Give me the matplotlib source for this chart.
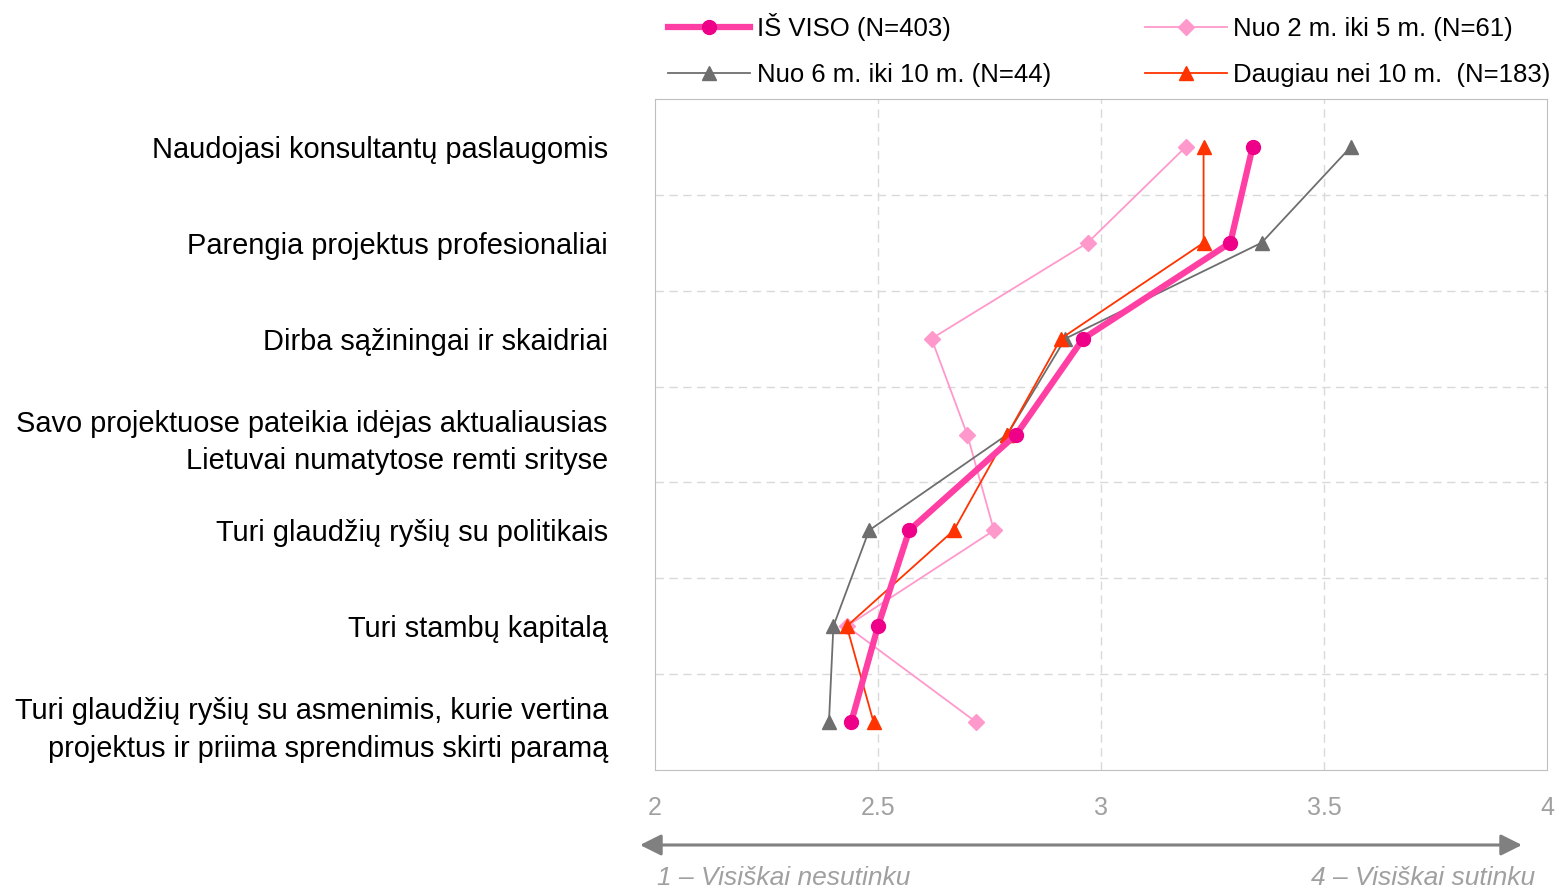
import numpy as np
import matplotlib.pyplot as plt

plt.rcParams['font.family'] = ['Liberation Sans', 'DejaVu Sans']

categories = [
    'Naudojasi konsultantų paslaugomis',
    'Parengia projektus profesionaliai',
    'Dirba sąžiningai ir skaidriai',
    'Savo projektuose pateikia idėjas aktualiausias\nLietuvai numatytose remti srityse',
    'Turi glaudžių ryšių su politikais',
    'Turi stambų kapitalą',
    'Turi glaudžių ryšių su asmenimis, kurie vertina\nprojektus ir priima sprendimus skirti paramą',
]

is_viso = [3.34, 3.29, 2.96, 2.81, 2.57, 2.50, 2.44]
nuo_2_5 = [3.19, 2.97, 2.62, 2.70, 2.76, 2.43, 2.72]
nuo_6_10 = [3.56, 3.36, 2.92, 2.79, 2.48, 2.40, 2.39]
daugiau_10 = [3.23, 3.23, 2.91, 2.79, 2.67, 2.43, 2.49]

x_ticks = [2, 2.5, 3, 3.5, 4]
x_tick_labels = ['2', '2.5', '3', '3.5', '4']

y = np.arange(len(categories))

fig = plt.figure(figsize=(15.57, 8.9), dpi=100)
ax = fig.add_axes([655 / 1557, 1 - 770 / 890, 892 / 1557, 671 / 890])

l2, = ax.plot(nuo_2_5, y, color='#FF99CC', lw=1.3, marker='D', ms=8,
              label='Nuo 2 m. iki 5 m. (N=61)', zorder=3)
l3, = ax.plot(nuo_6_10, y, color='#6E6E6E', lw=1.3, marker='^', ms=10,
              label='Nuo 6 m. iki 10 m. (N=44)', zorder=4)
l4, = ax.plot(daugiau_10, y, color='#FF3300', lw=1.3, marker='^', ms=10,
              label='Daugiau nei 10 m.  (N=183)', zorder=5)
l1, = ax.plot(is_viso, y, color='#FF3FA4', lw=4.5, marker='o', ms=10,
              mfc='#EE0088', mec='#EE0088', label='IŠ VISO (N=403)', zorder=6)

ax.set_xlim(2, 4)
ax.set_ylim(6.5, -0.5)
ax.set_xticks(x_ticks)
ax.set_xticklabels(x_tick_labels, color='#A0A0A0', fontsize=18)
ax.set_yticks(y)
ax.set_yticklabels(categories, fontsize=20.9, ha='right', linespacing=1.45)
ax.tick_params(axis='both', length=0)
ax.tick_params(axis='x', pad=19)
ax.tick_params(axis='y', pad=34)

for v in [2.5, 3, 3.5]:
    ax.axvline(v, color='#D9D9D9', lw=1, ls=(0, (6, 4)), zorder=1)
for v in np.arange(0.5, 6, 1):
    ax.axhline(v, color='#D9D9D9', lw=1, ls=(0, (6, 4)), zorder=1)
for s in ax.spines.values():
    s.set_color('#BFBFBF')

fig.legend(handles=[l1, l3, l2, l4], ncol=2, loc='upper left',
           bbox_to_anchor=(668 / 1557, 1 - 13 / 890), frameon=False,
           fontsize=18.5, handlelength=3.2, handletextpad=0.25,
           columnspacing=3.65, labelspacing=0.87, borderaxespad=0,
           borderpad=0)

# scale arrow below the axis
ax.annotate('', xy=(640 / 1557, 1 - 845 / 890), xytext=(1522 / 1557, 1 - 845 / 890),
            xycoords='figure fraction', textcoords='figure fraction',
            arrowprops=dict(arrowstyle='<|-|>', color='#808080', lw=2.2,
                            mutation_scale=32, shrinkA=0, shrinkB=0))
fig.text(657 / 1557, 1 - 878 / 890, '1 – Visiškai nesutinku', color='#A0A0A0',
         fontsize=19, style='italic', ha='left', va='center')
fig.text(1535 / 1557, 1 - 878 / 890, '4 – Visiškai sutinku', color='#A0A0A0',
         fontsize=19, style='italic', ha='right', va='center')

fig.savefig('out.png', dpi=100)
